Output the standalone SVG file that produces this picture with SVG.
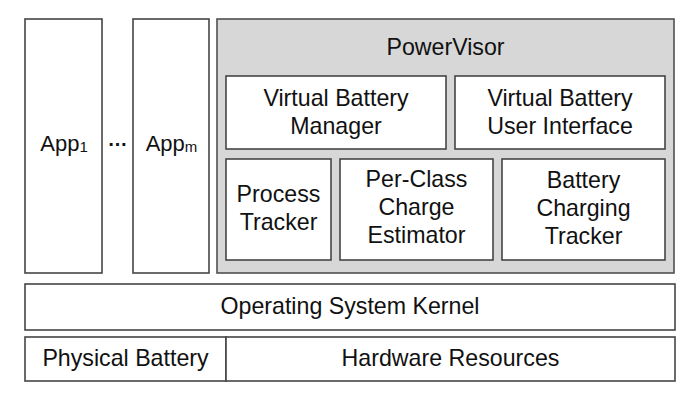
<svg xmlns="http://www.w3.org/2000/svg" width="696" height="404" viewBox="0 0 696 404">
<style>
.box{fill:#ffffff;stroke:#454545;stroke-width:1.6}
.pv{fill:#d7d7d7;stroke:#505050;stroke-width:1.6}
text{font-family:"Liberation Sans",Arial,sans-serif;font-size:23.2px;fill:#111111;text-anchor:middle}
.app{font-size:22px}
.sub{font-size:15px}
</style>
<rect width="696" height="404" fill="#ffffff"/>
<g id="app1">
<rect class="box" x="25" y="19" width="77" height="254"/>
<text class="app" x="64" y="151">App<tspan class="sub" dy="1">1</tspan></text>
</g>
<g id="ellipsis">
<text x="117.5" y="146" style="font-size:20px;font-weight:bold">…</text>
</g>
<g id="appm">
<rect class="box" x="133" y="19" width="76" height="254"/>
<text class="app" x="171.5" y="151">App<tspan class="sub" dy="1">m</tspan></text>
</g>
<g id="powervisor">
<rect class="pv" x="217" y="19" width="457" height="254"/>
<text x="445.5" y="55">PowerVisor</text>
</g>
<g id="vbm">
<rect class="box" x="226" y="76" width="220" height="73"/>
<text x="336" y="106">Virtual Battery</text>
<text x="336" y="134">Manager</text>
</g>
<g id="vbui">
<rect class="box" x="455" y="76" width="210" height="73"/>
<text x="560" y="106">Virtual Battery</text>
<text x="560" y="134">User Interface</text>
</g>
<g id="process-tracker">
<rect class="box" x="226" y="159" width="105" height="101"/>
<text x="278.5" y="202">Process</text>
<text x="278.5" y="230">Tracker</text>
</g>
<g id="per-class">
<rect class="box" x="340" y="159" width="153" height="101"/>
<text x="416.5" y="187">Per-Class</text>
<text x="416.5" y="215">Charge</text>
<text x="416.5" y="243">Estimator</text>
</g>
<g id="battery-charging">
<rect class="box" x="502" y="159" width="163" height="101"/>
<text x="583.5" y="188">Battery</text>
<text x="583.5" y="216">Charging</text>
<text x="583.5" y="244">Tracker</text>
</g>
<g id="kernel">
<rect class="box" x="25" y="284" width="650" height="46"/>
<text x="350" y="314">Operating System Kernel</text>
</g>
<g id="physical-battery">
<rect class="box" x="25" y="337" width="201" height="44"/>
<text x="125.5" y="366">Physical Battery</text>
</g>
<g id="hardware">
<rect class="box" x="226" y="337" width="449" height="44"/>
<text x="450.5" y="366">Hardware Resources</text>
</g>
<g id="connectors"></g>
</svg>
